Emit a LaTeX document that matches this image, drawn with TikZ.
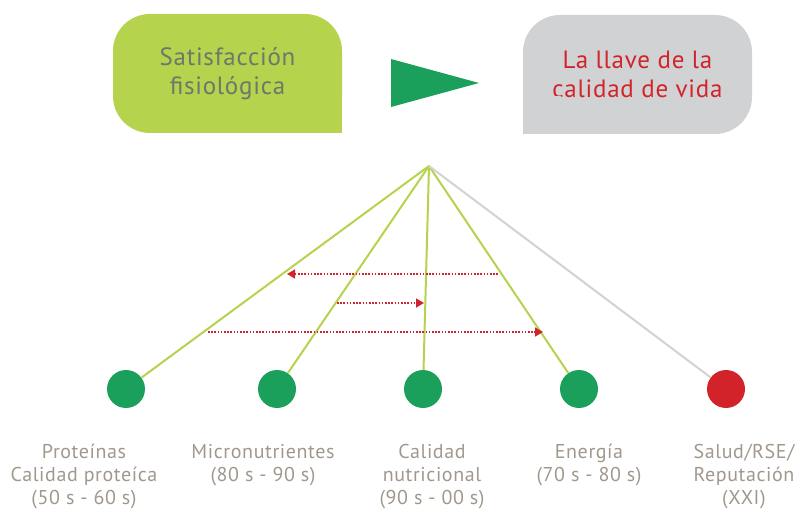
\documentclass[tikz,border=0pt]{standalone}
\usepackage{fontspec}
\setmainfont{PT Sans}[LetterSpace=3]
\usetikzlibrary{arrows.meta}
\definecolor{lime}{RGB}{181,211,76}
\definecolor{dgreen}{RGB}{26,160,90}
\definecolor{lgray}{RGB}{209,210,212}
\definecolor{myred}{RGB}{210,35,42}
\definecolor{boxtxt}{RGB}{108,120,108}
\definecolor{labtxt}{RGB}{160,152,140}
\definecolor{linegray}{RGB}{210,210,210}
\tikzset{
  bigbox/.style={rounded corners=37pt, minimum width=229pt, minimum height=119pt, inner sep=0pt, align=center, font=\fontsize{25}{29}\selectfont},
  dot/.style={circle, minimum size=38pt, inner sep=0pt, fill=dgreen},
  spoke/.style={lime, line width=2pt},
  timearrow/.style={myred, line width=1.6pt, dash pattern=on 1.6pt off 1.6pt, -{Triangle[length=8pt,width=9pt]}},
  lab/.style={labtxt, align=center, anchor=north, inner sep=0pt, font=\fontsize{20}{23}\selectfont}
}
\begin{document}
\begin{tikzpicture}[x=1pt,y=-1pt]
\useasboundingbox (0,0) rectangle (795,510);
% boxes
\node[bigbox, fill=lime, text=boxtxt] (sat) at (227.5,73.5) {Satisfacción\\fisiológica};
\fill[lime] (sat.south east) rectangle ([xshift=-38pt,yshift=38pt]sat.south east);
\node[bigbox, fill=lgray, text=myred] (llave) at (637.5,74.5) {La llave de la\\calidad de vida};
\fill[lgray] (llave.south west) rectangle ([xshift=38pt,yshift=38pt]llave.south west);
% triangle
\coordinate (t1) at (391,59);
\coordinate (t2) at (479,83);
\coordinate (t3) at (391,107);
\fill[dgreen] (t1) -- (t2) -- (t3) -- cycle;
% apex and circles
\coordinate (apex) at (429,166);
\node[dot] (c1) at (126,389) {};
\node[dot] (c2) at (277,389) {};
\node[dot] (c3) at (423,389) {};
\node[dot] (c4) at (579,389) {};
\node[dot, fill=myred] (c5) at (726,389) {};
\draw[spoke] (apex) -- (c1);
\draw[spoke] (apex) -- (c2);
\draw[spoke] (apex) -- (c3);
\draw[spoke] (apex) -- (c4);
\draw[linegray, line width=2pt] (apex) -- (c5);
% dotted arrows
\coordinate (a1s) at (498,274); \coordinate (a1e) at (287,274);
\coordinate (a2s) at (337,303); \coordinate (a2e) at (424,303);
\coordinate (a3s) at (208,332); \coordinate (a3e) at (543,332);
\draw[timearrow] (a1s) -- (a1e);
\draw[timearrow] (a2s) -- (a2e);
\draw[timearrow] (a3s) -- (a3e);
% labels
\node[lab] (l1) at (84,444) {Proteínas\\Calidad proteíca\\(50 s - 60 s)};
\node[lab] (l2) at (263,444) {Micronutrientes\\(80 s - 90 s)};
\node[lab] (l3) at (432,444) {Calidad\\nutricional\\(90 s - 00 s)};
\node[lab] (l4) at (589,444) {Energía\\(70 s - 80 s)};
\node[lab] (l5) at (744,444) {Salud/RSE/\\Reputación\\(XXI)};
\end{tikzpicture}
\end{document}
